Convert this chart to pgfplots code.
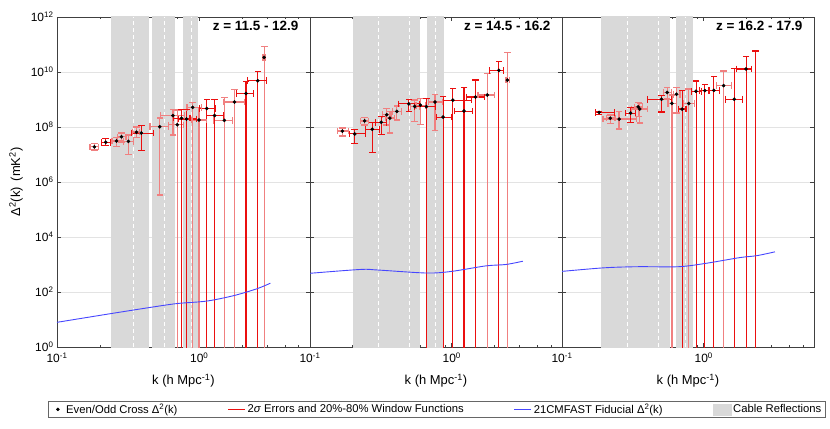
\documentclass[border=0pt]{standalone}
\usepackage{fontspec}
\setmainfont{Liberation Sans}
\usepackage{pgfplots}
\pgfplotsset{compat=1.18}

\definecolor{cablegray}{RGB}{217,217,217}
\definecolor{lred}{RGB}{240,128,128}
\definecolor{errred}{rgb}{0.92,0.06,0.06}
\definecolor{cblue}{RGB}{70,70,255}

\pgfplotsset{
  every axis/.append style={
    scale only axis, height=330bp,
    xmin=0.1, xmax=6, ymin=1, ymax=1e12,
    xtick={0.1,1}, xticklabels={10\textsuperscript{-1},10\textsuperscript{0}},
    minor xtick={0.2,0.3,0.4,0.5,0.6,0.7,0.8,0.9,2,3,4,5},
    ytick={1,1e2,1e4,1e6,1e8,1e10,1e12},
    minor ytick={},
    tick align=inside, major tick length=4bp, minor tick length=2.5bp,
    ymajorgrids, grid style={gray!22, line width=0.5bp},
    axis line style={line width=0.6bp},
    tick style={line width=0.5bp},
    tick label style={font=\fontsize{12}{14}\selectfont},
    xticklabel style={yshift=-2.5bp},
    xlabel={k (h Mpc\textsuperscript{-1})},
    xlabel style={font=\fontsize{13}{15}\selectfont, at={(axis description cs:0.5,-0.115)}, anchor=base, inner sep=0pt},
    title style={font=\fontsize{13.5}{16}\selectfont\bfseries, at={(axis description cs:0.955,0.942)}, anchor=base east, inner sep=0pt},
    unbounded coords=jump,
  },
  vL/.style={forget plot, color=lred, draw=lred, line width=1.3bp, mark=-, mark size=3.3bp, mark options={solid, draw=lred, line width=1.3bp}},
  vD/.style={forget plot, color=errred, draw=errred, line width=1.1bp, mark=-, mark size=3.3bp, mark options={solid, draw=errred, line width=1.1bp}},
  hL/.style={forget plot, color=lred, draw=lred, line width=1.3bp, mark=|, mark size=3.3bp, mark options={solid, draw=lred, line width=1.3bp}},
  hD/.style={forget plot, color=errred, draw=errred, line width=1.1bp, mark=|, mark size=3.3bp, mark options={solid, draw=errred, line width=1.1bp}},
  dots/.style={forget plot, only marks, mark=*, mark size=1.6bp, black},
  fid/.style={forget plot, draw=cblue, line width=0.9bp, smooth},
}

\newcommand{\cable}[2]{%
  \addplot[forget plot, draw=none, fill=cablegray] coordinates {(#1,0.01) (#2,0.01) (#2,1e14) (#1,1e14)} --cycle;}
\newcommand{\wdash}[1]{%
  \addplot[forget plot, draw=white, line width=1bp, dash pattern=on 4bp off 3bp] coordinates {(#1,1) (#1,1e12)};}

\begin{document}
\begin{tikzpicture}
\useasboundingbox (-57bp,-82bp) rectangle (773bp,347bp);

% ---------- panel 1 ----------
\begin{loglogaxis}[width=253bp, at={(0bp,0bp)},
  axis line style={draw=black!75}, tick style={draw=black!75},
  title={z = 11.5 - 12.9},
  ylabel={Δ\textsuperscript{2}(k)\hspace{6bp}(mK\textsuperscript{2})},
  ylabel style={font=\fontsize{13}{15}\selectfont, at={(axis description cs:-0.162,0.5)}, anchor=center},
  yticklabels={10\textsuperscript{0},10\textsuperscript{2},10\textsuperscript{4},10\textsuperscript{6},10\textsuperscript{8},10\textsuperscript{10},10\textsuperscript{12}},
  legend columns=4,
  legend style={at={(axis description cs:1.502,-0.189)}, anchor=center,
    font=\fontsize{11.3}{13}\selectfont, line width=0.6bp, draw=black!60,
    inner xsep=2bp, inner ysep=0.5bp,
    /tikz/every even column/.append style={column sep=48bp}},
]
\addlegendimage{legend image code/.code={\fill[black] (7bp,0bp) circle (1.4bp); \path (0bp,0bp) (13bp,0bp);}}
\addlegendentry{Even/Odd Cross Δ\textsuperscript{2}(k)}
\addlegendimage{color=errred, draw=errred, line width=1.1bp}
\addlegendentry{2\textit{σ} Errors and 20\%-80\% Window Functions}
\addlegendimage{color=cblue, draw=cblue, line width=1.1bp}
\addlegendentry{21CMFAST Fiducial Δ\textsuperscript{2}(k)}
\addlegendimage{legend image code/.code={\fill[cablegray] (0bp,-5.5bp) rectangle (18bp,5.5bp);}}
\addlegendentry{Cable Reflections}
\cable{0.240}{0.445}
\cable{0.467}{0.678}
\cable{0.771}{0.973}
\wdash{0.343}
\wdash{0.573}
\wdash{0.875}
\addplot[vL] coordinates {
 (0.183,1.45e7) (0.183,2.5e7) (nan,nan)
 (0.262,2.0e7) (0.262,4.2e7) (nan,nan)
 (0.284,2.8e7) (0.284,6.0e7) (nan,nan)
 (0.318,1.0e7) (0.318,5.1e7) (nan,nan)
 (0.362,4.2e7) (0.362,1.0e8) (nan,nan)
 (0.528,3.4e5) (0.528,2.1e8) (nan,nan)
 (0.653,5.1e7) (0.653,4.4e8) (nan,nan)
 (0.700,1e-3) (0.700,4.2e8) (nan,nan)
 (0.898,1e-3) (0.898,7.6e8) (nan,nan)
 (0.995,1e-3) (0.995,5.0e8) (nan,nan)
 (1.50,1e-3) (1.50,1.17e9) (nan,nan)
 (1.77,1e-3) (1.77,2.3e9) (nan,nan)
 (2.86,1e-3) (2.86,8.3e10)};
\addplot[hL] coordinates {
 (0.171,1.9e7) (0.195,1.9e7) (nan,nan)
 (0.243,3.1e7) (0.293,3.1e7) (nan,nan)
 (0.266,4.4e7) (0.306,4.4e7) (nan,nan)
 (0.293,3.0e7) (0.344,3.0e7) (nan,nan)
 (0.341,6.5e7) (0.380,6.5e7) (nan,nan)
 (0.451,1.02e8) (0.607,1.02e8) (nan,nan)
 (0.531,2.6e8) (0.787,2.6e8) (nan,nan)
 (0.607,1.2e8) (0.773,1.2e8) (nan,nan)
 (0.82,5.2e8) (1.04,5.2e8) (nan,nan)
 (0.89,1.8e8) (1.13,1.8e8) (nan,nan)
 (1.26,1.74e8) (1.72,1.74e8) (nan,nan)
 (1.48,8.1e8) (2.07,8.1e8) (nan,nan)
 (2.80,3.4e10) (2.92,3.4e10)};
\addplot[vD] coordinates {
 (0.220,2.2e7) (0.220,3.8e7) (nan,nan)
 (0.391,1.45e7) (0.391,1.1e8) (nan,nan)
 (0.750,1e-3) (0.750,4.2e8) (nan,nan)
 (0.814,1e-3) (0.814,4.4e8) (nan,nan)
 (1.13,1e-3) (1.13,9.8e8) (nan,nan)
 (1.28,1e-3) (1.28,9.8e8) (nan,nan)
 (2.13,1e-3) (2.13,4.4e9) (nan,nan)
 (2.58,1e-3) (2.58,1.05e10)};
\addplot[hD] coordinates {
 (0.204,2.8e7) (0.239,2.8e7) (nan,nan)
 (0.336,6.0e7) (0.477,6.0e7) (nan,nan)
 (0.66,2.1e8) (0.86,2.1e8) (nan,nan)
 (0.71,1.95e8) (0.96,1.95e8) (nan,nan)
 (1.01,4.7e8) (1.29,4.7e8) (nan,nan)
 (1.13,2.6e8) (1.47,2.6e8) (nan,nan)
 (1.82,1.66e9) (2.40,1.66e9) (nan,nan)
 (2.18,4.8e9) (2.95,4.8e9)};
\addplot[dots] coordinates {
 (0.183,1.9e7) (0.220,2.8e7) (0.262,3.1e7) (0.284,4.4e7) (0.318,3.0e7) (0.362,6.5e7)
 (0.391,6.0e7) (0.528,1.02e8) (0.653,2.6e8) (0.700,1.2e8) (0.750,2.1e8) (0.814,1.95e8)
 (0.898,5.2e8) (0.995,1.8e8) (1.13,4.7e8) (1.28,2.6e8) (1.50,1.74e8) (1.77,8.1e8)
 (2.13,1.66e9) (2.58,4.8e9) (2.86,3.4e10)};
\addplot[fid] coordinates {
 (0.1,7.9) (0.236,16.2) (0.452,27.5) (0.697,38) (1.13,46.8) (1.75,74) (2.55,132) (3.16,209)};
\end{loglogaxis}

% ---------- panel 2 ----------
\begin{loglogaxis}[width=252bp, at={(253bp,0bp)},
  axis line style={draw=black!75}, tick style={draw=black!75},
  title={z = 14.5 - 16.2}, yticklabels={}]
\cable{0.202}{0.602}
\cable{0.674}{0.878}
\wdash{0.305}
\wdash{0.500}
\wdash{0.771}
\addplot[vL] coordinates {
 (0.169,4.7e7) (0.169,9.3e7) (nan,nan)
 (0.243,1.17e8) (0.243,2.2e8) (nan,nan)
 (0.348,1.17e8) (0.348,4.8e8) (nan,nan)
 (0.366,6.0e7) (0.366,3.6e8) (nan,nan)
 (0.410,1.78e8) (0.410,5.8e8) (nan,nan)
 (0.548,1.55e8) (0.548,9.5e8) (nan,nan)
 (0.601,1.2e8) (0.601,1.1e9) (nan,nan)
 (0.762,7.6e7) (0.762,1.55e9) (nan,nan)
 (1.78,1e-3) (1.78,8.9e9) (nan,nan)
 (2.47,1e-3) (2.47,5.0e10)};
\addplot[hL] coordinates {
 (0.157,7.1e7) (0.186,7.1e7) (nan,nan)
 (0.228,1.66e8) (0.258,1.66e8) (nan,nan)
 (0.325,2.8e8) (0.372,2.8e8) (nan,nan)
 (0.340,2.1e8) (0.395,2.1e8) (nan,nan)
 (0.380,3.7e8) (0.440,3.7e8) (nan,nan)
 (0.51,5.6e8) (0.59,5.6e8) (nan,nan)
 (0.56,6.2e8) (0.65,6.2e8) (nan,nan)
 (0.682,8.1e8) (0.865,8.1e8) (nan,nan)
 (1.53,1.45e9) (2.00,1.45e9) (nan,nan)
 (2.42,5.1e9) (2.55,5.1e9)};
\addplot[vD] coordinates {
 (0.207,2.6e7) (0.207,8.3e7) (nan,nan)
 (0.275,1.2e7) (0.275,1.45e8) (nan,nan)
 (0.318,5.2e7) (0.318,2.45e8) (nan,nan)
 (0.498,3.7e8) (0.498,1.02e9) (nan,nan)
 (0.663,1e-3) (0.663,1.1e9) (nan,nan)
 (0.869,1e-3) (0.869,1.26e9) (nan,nan)
 (1.02,1e-3) (1.02,2.45e9) (nan,nan)
 (1.22,1e-3) (1.22,2.7e9) (nan,nan)
 (1.47,1e-3) (1.47,5.1e9) (nan,nan)
 (2.15,1e-3) (2.15,2.5e10)};
\addplot[hD] coordinates {
 (0.189,5.6e7) (0.248,5.6e7) (nan,nan)
 (0.248,8.3e7) (0.308,8.3e7) (nan,nan)
 (0.290,1.48e8) (0.345,1.48e8) (nan,nan)
 (0.424,6.9e8) (0.589,6.9e8) (nan,nan)
 (0.548,5.5e8) (0.771,5.5e8) (nan,nan)
 (0.781,2.3e8) (0.99,2.3e8) (nan,nan)
 (0.87,9.5e8) (1.37,9.5e8) (nan,nan)
 (1.05,3.8e8) (1.41,3.8e8) (nan,nan)
 (1.27,1.23e9) (1.71,1.23e9) (nan,nan)
 (1.85,1.15e10) (2.33,1.15e10)};
\addplot[dots] coordinates {
 (0.169,7.1e7) (0.207,5.6e7) (0.243,1.66e8) (0.275,8.3e7) (0.318,1.48e8) (0.348,2.8e8)
 (0.366,2.1e8) (0.410,3.7e8) (0.498,6.9e8) (0.548,5.6e8) (0.601,6.2e8) (0.663,5.5e8)
 (0.762,8.1e8) (0.869,2.3e8) (1.02,9.5e8) (1.22,3.8e8) (1.47,1.23e9) (1.78,1.45e9)
 (2.15,1.15e10) (2.47,5.1e9)};
\addplot[fid] coordinates {
 (0.1,479) (0.228,661) (0.30,631) (0.665,490) (1.0,562) (1.74,891) (2.41,1000) (3.18,1318)};
\end{loglogaxis}

% ---------- panel 3 ----------
\begin{loglogaxis}[width=252bp, at={(505bp,0bp)},
  axis line style={draw=black!75}, tick style={draw=black!75},
  title={z = 16.2 - 17.9}, yticklabels={}]
\cable{0.187}{0.582}
\cable{0.635}{0.841}
\wdash{0.290}
\wdash{0.482}
\wdash{0.743}
\addplot[vL] coordinates {
 (0.219,1.35e8) (0.219,2.75e8) (nan,nan)
 (0.253,8.5e7) (0.253,3.6e8) (nan,nan)
 (0.345,2.35e8) (0.345,7.9e8) (nan,nan)
 (0.354,1.41e8) (0.354,7.1e8) (nan,nan)
 (0.552,1.05e9) (0.552,2.75e9) (nan,nan)
 (0.596,1e-3) (0.596,1.45e9) (nan,nan)
 (0.643,3.2e8) (0.643,2.7e9) (nan,nan)
 (0.784,1e-3) (0.784,2.4e9) (nan,nan)
 (1.38,1e-3) (1.38,1.1e10)};
\addplot[hL] coordinates {
 (0.205,2.1e8) (0.236,2.1e8) (nan,nan)
 (0.195,1.95e8) (0.336,1.95e8) (nan,nan)
 (0.325,5.4e8) (0.37,5.4e8) (nan,nan)
 (0.310,4.5e8) (0.399,4.5e8) (nan,nan)
 (0.52,1.8e9) (0.59,1.8e9) (nan,nan)
 (0.56,7.2e8) (0.64,7.2e8) (nan,nan)
 (0.61,1.55e9) (0.68,1.55e9) (nan,nan)
 (0.723,7.2e8) (0.865,7.2e8) (nan,nan)
 (1.23,3.2e9) (1.57,3.2e9)};
\addplot[vD] coordinates {
 (0.183,2.95e8) (0.183,3.7e8) (nan,nan)
 (0.305,1.48e8) (0.305,5.0e8) (nan,nan)
 (0.504,3.5e8) (0.504,1.38e9) (nan,nan)
 (0.704,1e-3) (0.704,2.2e9) (nan,nan)
 (0.883,1e-3) (0.883,4.7e9) (nan,nan)
 (1.02,1e-3) (1.02,3.5e9) (nan,nan)
 (1.18,1e-3) (1.18,6.9e9) (nan,nan)
 (1.64,1e-3) (1.64,1.35e10) (nan,nan)
 (1.99,1e-3) (1.99,3.6e10) (nan,nan)
 (2.32,1e-3) (2.32,5.8e10)};
\addplot[hD] coordinates {
 (0.173,3.4e8) (0.233,3.4e8) (nan,nan)
 (0.28,3.2e8) (0.33,3.2e8) (nan,nan)
 (0.40,1.02e9) (0.593,1.02e9) (nan,nan)
 (0.66,4.5e8) (0.75,4.5e8) (nan,nan)
 (0.82,2.0e9) (0.96,2.0e9) (nan,nan)
 (0.93,2.1e9) (1.09,2.1e9) (nan,nan)
 (1.08,2.15e9) (1.30,2.15e9) (nan,nan)
 (1.43,1.02e9) (1.87,1.02e9) (nan,nan)
 (1.70,1.29e10) (2.17,1.29e10)};
\addplot[dots] coordinates {
 (0.183,3.4e8) (0.219,2.1e8) (0.253,1.95e8) (0.305,3.2e8) (0.345,5.4e8) (0.354,4.5e8)
 (0.504,1.02e9) (0.552,1.8e9) (0.596,7.2e8) (0.643,1.55e9) (0.704,4.5e8) (0.784,7.2e8)
 (0.883,2.0e9) (1.02,2.1e9) (1.18,2.15e9) (1.38,3.2e9) (1.64,1.02e9) (1.99,1.29e10)};
\addplot[fid] coordinates {
 (0.1,562) (0.199,759) (0.345,832) (0.667,832) (1.03,1096) (1.79,1778) (2.36,2089) (3.18,2884)};
\end{loglogaxis}
\end{tikzpicture}
\end{document}
